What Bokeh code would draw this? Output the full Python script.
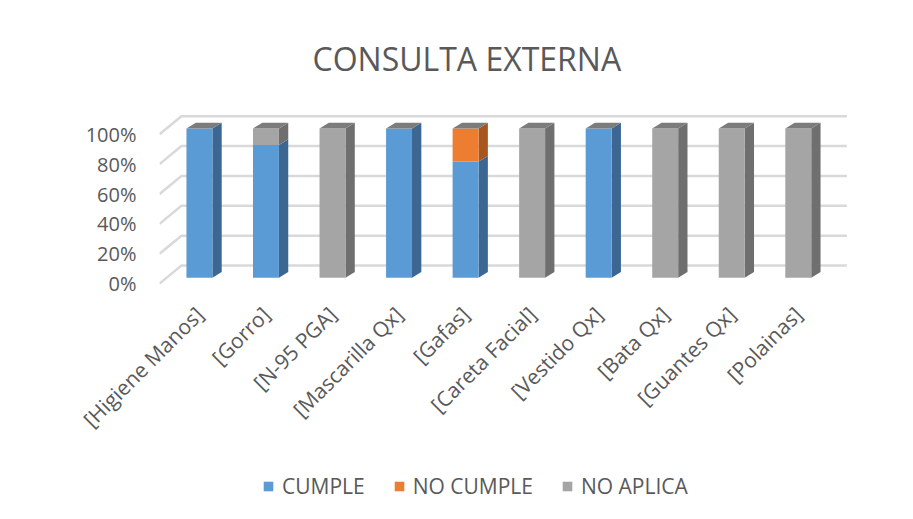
import numpy as np
from bokeh.plotting import figure
from bokeh.layouts import column
from bokeh.models import FixedTicker, Legend, LegendItem
from bokeh.embed import file_html
from bokeh.resources import INLINE

# ---- data ----
categories = ["[Higiene Manos]", "[Gorro]", "[N-95 PGA]", "[Mascarilla Qx]", "[Gafas]",
              "[Careta Facial]", "[Vestido Qx]", "[Bata Qx]", "[Guantes Qx]", "[Polainas]"]
cumple    = [100, 88.9, 0, 100, 77.8, 0, 100, 0, 0, 0]
no_cumple = [0, 0, 0, 0, 22.2, 0, 0, 0, 0, 0]
no_aplica = [0, 11.1, 100, 0, 0, 100, 0, 100, 100, 100]
series_names = ["CUMPLE", "NO CUMPLE", "NO APLICA"]
y_ticks = [0, 20, 40, 60, 80, 100]
y_tick_labels = ["0%", "20%", "40%", "60%", "80%", "100%"]

# ---- style ----
front_colors = ["#5b9bd5", "#ed7d31", "#a5a5a5"]
side_colors = ["#3c6792", "#a85620", "#6f6f6f"]
top_color = "#7c7c7c"
text_color = "#595959"
grid_color = "#d9d9d9"
FONT = "Open Sans"

# projection parameters (data units)
wall_dx, wall_dy = 0.33, 12.1     # depth of the back wall
bar_shift, bar_lift = 0.10, 3.9   # bar front face position in depth
bar_w = 0.39
bar_dx, bar_dy = 0.14, 3.8        # bar depth

n = len(categories)
x = np.arange(n)

p = figure(width=897, height=445, output_backend="svg", toolbar_location=None,
           x_range=(-0.5, 9.9), y_range=(-2.6, 122.6),
           min_border_left=159, min_border_right=46, min_border_top=100,
           min_border_bottom=151)
p.outline_line_color = None
p.grid.visible = False
p.background_fill_color = "white"
p.border_fill_color = "white"

p.title.text = "CONSULTA EXTERNA"
p.title.align = "left"
p.title.text_font = FONT
p.title.text_font_size = "32px"
p.title.text_font_style = "normal"
p.title.text_color = text_color
p.title.offset = 153
p.title.standoff = 42

# gridlines (3D back wall + floor edge)
gx, gy = [], []
for v in y_ticks:
    gx.append([-0.5, -0.5 + wall_dx, n - 0.5 + wall_dx])
    gy.append([v, v + wall_dy, v + wall_dy])
p.multi_line(gx, gy, line_color=grid_color, line_width=2.5)

# stacked 3D bars
stacks = [cumple, no_cumple, no_aplica]
bottom = np.zeros(n)
xl = x + bar_shift - bar_w / 2
xr = x + bar_shift + bar_w / 2
for k, vals in enumerate(stacks):
    vals = np.array(vals, dtype=float)
    top = bottom + vals
    y0 = bottom + bar_lift
    y1 = top + bar_lift
    sx = [[a, a + bar_dx, a + bar_dx, a] for a in xr]
    sy = [[b0, b0 + bar_dy, b1 + bar_dy, b1] for b0, b1 in zip(y0, y1)]
    p.patches(sx, sy, fill_color=side_colors[k], line_color=None)
    p.quad(left=xl, right=xr, bottom=y0, top=y1,
           fill_color=front_colors[k], line_color=None)
    bottom = top

yt = bottom + bar_lift
tx = [[a, a + bar_dx, b + bar_dx, b] for a, b in zip(xl, xr)]
ty = [[t, t + bar_dy, t + bar_dy, t] for t in yt]
p.patches(tx, ty, fill_color=top_color, line_color=None)

# axes
p.yaxis.ticker = FixedTicker(ticks=y_ticks)
p.yaxis.major_label_overrides = {t: l for t, l in zip(y_ticks, y_tick_labels)}
p.yaxis.axis_line_color = None
p.yaxis.major_tick_line_color = None
p.yaxis.minor_tick_line_color = None
p.yaxis.major_tick_out = 0
p.yaxis.major_label_standoff = 23
p.yaxis.major_label_text_font = FONT
p.yaxis.major_label_text_font_size = "20px"
p.yaxis.major_label_text_color = text_color

tick_pos = [float(i + bar_shift) for i in x]
p.xaxis.ticker = FixedTicker(ticks=tick_pos)
p.xaxis.major_label_overrides = {t: c for t, c in zip(tick_pos, categories)}
p.xaxis.major_label_orientation = np.pi / 4
p.xaxis.axis_line_color = None
p.xaxis.major_tick_line_color = None
p.xaxis.minor_tick_line_color = None
p.xaxis.major_tick_out = 0
p.xaxis.major_label_standoff = 23
p.xaxis.major_label_text_font = FONT
p.xaxis.major_label_text_font_size = "21px"
p.xaxis.major_label_text_color = text_color

# legend strip below the chart (swatch renderers sit outside the visible range)
leg = figure(width=897, height=58, output_backend="svg", toolbar_location=None,
             x_range=(0, 1), y_range=(0, 1), x_axis_type=None, y_axis_type=None,
             min_border_left=159, min_border_right=46, min_border_top=0,
             min_border_bottom=0)
leg.outline_line_color = None
leg.grid.visible = False
legend_items = []
for k, name in enumerate(series_names):
    r = leg.quad(left=[-3], right=[-2], bottom=[-3], top=[-2],
                 fill_color=front_colors[k], line_color=None)
    legend_items.append(LegendItem(label=name, renderers=[r]))
legend = Legend(items=legend_items, orientation="horizontal", location=(103, 3),
                glyph_width=12, glyph_height=12, spacing=28, label_standoff=8,
                label_text_font=FONT, label_text_font_size="21px",
                label_text_color=text_color, border_line_color=None,
                background_fill_alpha=0, margin=0, padding=0)
leg.add_layout(legend, "center")

layout = column(p, leg, spacing=0)
open("out.html", "w").write(file_html(layout, INLINE))
